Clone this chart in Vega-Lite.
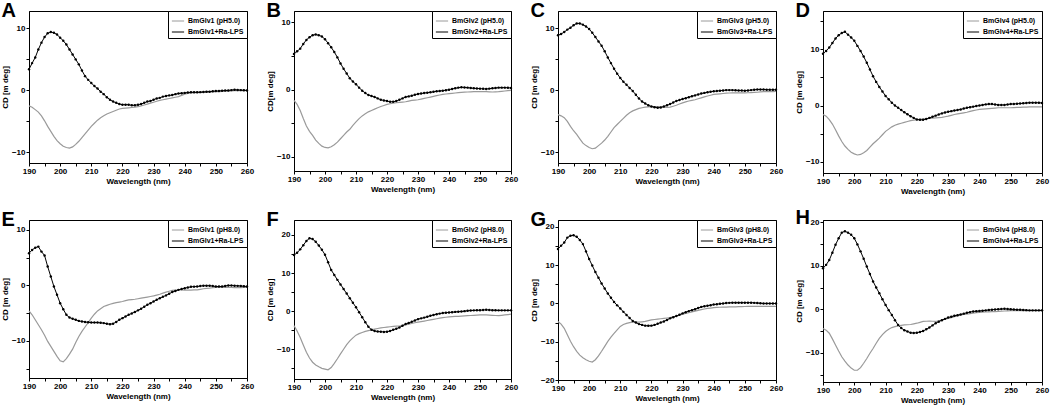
{
"$schema":"https://vega.github.io/schema/vega-lite/v6.json",
"padding":{"left":0,"top":0,"right":2,"bottom":0},
"background":"white",
"columns":4,
"spacing":{"row":11,"column":10},
"resolve":{"scale":{"color":"independent","y":"independent","x":"independent"},"legend":{"color":"independent"},"axis":{"x":"independent","y":"independent"}},
"datasets":{
"A":[{"w":190,"a":-2.5,"b":3.4},{"w":191,"a":-2.7,"b":4.4},{"w":192,"a":-3.1,"b":5.3},{"w":193,"a":-3.5,"b":6.6},{"w":194,"a":-4.1,"b":7.7},{"w":195,"a":-4.9,"b":8.6},{"w":196,"a":-5.8,"b":9.2},{"w":197,"a":-6.6,"b":9.4},{"w":198,"a":-7.4,"b":9.3},{"w":199,"a":-8.1,"b":9.0},{"w":200,"a":-8.6,"b":8.5},{"w":201,"a":-9.0,"b":8.0},{"w":202,"a":-9.2,"b":7.4},{"w":203,"a":-9.3,"b":6.6},{"w":204,"a":-9.1,"b":5.8},{"w":205,"a":-8.7,"b":5.0},{"w":206,"a":-8.2,"b":4.2},{"w":207,"a":-7.6,"b":3.2},{"w":208,"a":-7.0,"b":2.3},{"w":209,"a":-6.4,"b":1.7},{"w":210,"a":-5.8,"b":1.2},{"w":211,"a":-5.3,"b":0.7},{"w":212,"a":-4.8,"b":0.3},{"w":213,"a":-4.4,"b":-0.2},{"w":214,"a":-4.1,"b":-0.6},{"w":215,"a":-3.8,"b":-1.1},{"w":216,"a":-3.6,"b":-1.5},{"w":217,"a":-3.4,"b":-1.8},{"w":218,"a":-3.2,"b":-2.0},{"w":219,"a":-3.0,"b":-2.2},{"w":220,"a":-2.9,"b":-2.3},{"w":221,"a":-2.85,"b":-2.3},{"w":222,"a":-2.8,"b":-2.3},{"w":223,"a":-2.75,"b":-2.4},{"w":224,"a":-2.7,"b":-2.4},{"w":225,"a":-2.6,"b":-2.3},{"w":226,"a":-2.5,"b":-2.2},{"w":227,"a":-2.35,"b":-2.0},{"w":228,"a":-2.2,"b":-1.8},{"w":229,"a":-2.05,"b":-1.7},{"w":230,"a":-1.9,"b":-1.5},{"w":231,"a":-1.75,"b":-1.3},{"w":232,"a":-1.6,"b":-1.2},{"w":233,"a":-1.5,"b":-1.0},{"w":234,"a":-1.4,"b":-0.9},{"w":235,"a":-1.3,"b":-0.8},{"w":236,"a":-1.2,"b":-0.75},{"w":237,"a":-1.1,"b":-0.6},{"w":238,"a":-1.0,"b":-0.5},{"w":239,"a":-0.8,"b":-0.45},{"w":240,"a":-0.6,"b":-0.4},{"w":241,"a":-0.5,"b":-0.35},{"w":242,"a":-0.4,"b":-0.3},{"w":243,"a":-0.38,"b":-0.3},{"w":244,"a":-0.35,"b":-0.3},{"w":245,"a":-0.32,"b":-0.28},{"w":246,"a":-0.3,"b":-0.25},{"w":247,"a":-0.28,"b":-0.22},{"w":248,"a":-0.25,"b":-0.2},{"w":249,"a":-0.22,"b":-0.15},{"w":250,"a":-0.2,"b":-0.1},{"w":251,"a":-0.18,"b":-0.08},{"w":252,"a":-0.15,"b":-0.05},{"w":253,"a":-0.12,"b":-0.02},{"w":254,"a":-0.1,"b":0.0},{"w":255,"a":-0.08,"b":0.05},{"w":256,"a":-0.05,"b":0.1},{"w":257,"a":-0.05,"b":0.08},{"w":258,"a":-0.03,"b":0.05},{"w":259,"a":-0.02,"b":0.02},{"w":260,"a":0.0,"b":0.0}],
"B":[{"w":190,"a":-1.6,"b":5.3},{"w":191,"a":-2.2,"b":5.7},{"w":192,"a":-3.1,"b":6.1},{"w":193,"a":-4.3,"b":6.8},{"w":194,"a":-5.4,"b":7.4},{"w":195,"a":-6.2,"b":7.8},{"w":196,"a":-6.8,"b":8.1},{"w":197,"a":-7.5,"b":8.2},{"w":198,"a":-8.0,"b":8.1},{"w":199,"a":-8.4,"b":7.9},{"w":200,"a":-8.6,"b":7.5},{"w":201,"a":-8.65,"b":6.9},{"w":202,"a":-8.5,"b":6.3},{"w":203,"a":-8.2,"b":5.6},{"w":204,"a":-7.8,"b":4.8},{"w":205,"a":-7.3,"b":3.9},{"w":206,"a":-6.8,"b":3.1},{"w":207,"a":-6.3,"b":2.4},{"w":208,"a":-5.9,"b":1.7},{"w":209,"a":-5.3,"b":1.2},{"w":210,"a":-4.8,"b":0.8},{"w":211,"a":-4.3,"b":0.3},{"w":212,"a":-3.9,"b":-0.15},{"w":213,"a":-3.6,"b":-0.5},{"w":214,"a":-3.3,"b":-0.8},{"w":215,"a":-3.1,"b":-0.95},{"w":216,"a":-2.9,"b":-1.1},{"w":217,"a":-2.7,"b":-1.3},{"w":218,"a":-2.5,"b":-1.5},{"w":219,"a":-2.35,"b":-1.6},{"w":220,"a":-2.2,"b":-1.7},{"w":221,"a":-2.1,"b":-1.8},{"w":222,"a":-2.0,"b":-1.8},{"w":223,"a":-1.95,"b":-1.7},{"w":224,"a":-1.9,"b":-1.5},{"w":225,"a":-1.85,"b":-1.3},{"w":226,"a":-1.8,"b":-1.1},{"w":227,"a":-1.7,"b":-1.0},{"w":228,"a":-1.6,"b":-0.9},{"w":229,"a":-1.55,"b":-0.75},{"w":230,"a":-1.5,"b":-0.65},{"w":231,"a":-1.4,"b":-0.58},{"w":232,"a":-1.3,"b":-0.5},{"w":233,"a":-1.2,"b":-0.45},{"w":234,"a":-1.1,"b":-0.4},{"w":235,"a":-1.0,"b":-0.32},{"w":236,"a":-0.9,"b":-0.25},{"w":237,"a":-0.8,"b":-0.2},{"w":238,"a":-0.7,"b":-0.15},{"w":239,"a":-0.65,"b":-0.08},{"w":240,"a":-0.6,"b":0.0},{"w":241,"a":-0.55,"b":0.1},{"w":242,"a":-0.5,"b":0.2},{"w":243,"a":-0.45,"b":0.3},{"w":244,"a":-0.4,"b":0.35},{"w":245,"a":-0.38,"b":0.33},{"w":246,"a":-0.35,"b":0.3},{"w":247,"a":-0.32,"b":0.25},{"w":248,"a":-0.3,"b":0.2},{"w":249,"a":-0.3,"b":0.18},{"w":250,"a":-0.3,"b":0.15},{"w":251,"a":-0.3,"b":0.12},{"w":252,"a":-0.3,"b":0.1},{"w":253,"a":-0.32,"b":0.15},{"w":254,"a":-0.35,"b":0.2},{"w":255,"a":-0.32,"b":0.25},{"w":256,"a":-0.3,"b":0.3},{"w":257,"a":-0.25,"b":0.3},{"w":258,"a":-0.2,"b":0.3},{"w":259,"a":-0.15,"b":0.28},{"w":260,"a":-0.1,"b":0.25}],
"C":[{"w":190,"a":-3.9,"b":8.9},{"w":191,"a":-4.1,"b":9.1},{"w":192,"a":-4.4,"b":9.4},{"w":193,"a":-5.0,"b":9.8},{"w":194,"a":-5.8,"b":10.1},{"w":195,"a":-6.5,"b":10.5},{"w":196,"a":-7.1,"b":10.8},{"w":197,"a":-7.8,"b":10.8},{"w":198,"a":-8.5,"b":10.6},{"w":199,"a":-8.9,"b":10.3},{"w":200,"a":-9.2,"b":9.9},{"w":201,"a":-9.4,"b":9.3},{"w":202,"a":-9.3,"b":8.6},{"w":203,"a":-8.9,"b":7.9},{"w":204,"a":-8.5,"b":7.2},{"w":205,"a":-8.0,"b":6.3},{"w":206,"a":-7.4,"b":5.3},{"w":207,"a":-6.7,"b":4.4},{"w":208,"a":-6.0,"b":3.5},{"w":209,"a":-5.5,"b":2.7},{"w":210,"a":-5.0,"b":2.0},{"w":211,"a":-4.5,"b":1.4},{"w":212,"a":-4.0,"b":0.9},{"w":213,"a":-3.6,"b":0.4},{"w":214,"a":-3.3,"b":-0.1},{"w":215,"a":-3.1,"b":-0.7},{"w":216,"a":-2.9,"b":-1.3},{"w":217,"a":-2.8,"b":-1.8},{"w":218,"a":-2.7,"b":-2.1},{"w":219,"a":-2.65,"b":-2.4},{"w":220,"a":-2.6,"b":-2.6},{"w":221,"a":-2.6,"b":-2.7},{"w":222,"a":-2.6,"b":-2.8},{"w":223,"a":-2.65,"b":-2.75},{"w":224,"a":-2.7,"b":-2.6},{"w":225,"a":-2.72,"b":-2.4},{"w":226,"a":-2.7,"b":-2.2},{"w":227,"a":-2.55,"b":-1.95},{"w":228,"a":-2.4,"b":-1.7},{"w":229,"a":-2.2,"b":-1.55},{"w":230,"a":-2.0,"b":-1.4},{"w":231,"a":-1.85,"b":-1.25},{"w":232,"a":-1.7,"b":-1.1},{"w":233,"a":-1.6,"b":-0.95},{"w":234,"a":-1.5,"b":-0.8},{"w":235,"a":-1.35,"b":-0.65},{"w":236,"a":-1.2,"b":-0.5},{"w":237,"a":-1.05,"b":-0.4},{"w":238,"a":-0.9,"b":-0.3},{"w":239,"a":-0.78,"b":-0.22},{"w":240,"a":-0.65,"b":-0.15},{"w":241,"a":-0.6,"b":-0.1},{"w":242,"a":-0.55,"b":-0.05},{"w":243,"a":-0.5,"b":0.0},{"w":244,"a":-0.45,"b":0.05},{"w":245,"a":-0.42,"b":0.05},{"w":246,"a":-0.4,"b":0.05},{"w":247,"a":-0.4,"b":0.02},{"w":248,"a":-0.4,"b":0.0},{"w":249,"a":-0.4,"b":-0.03},{"w":250,"a":-0.4,"b":-0.05},{"w":251,"a":-0.38,"b":0.0},{"w":252,"a":-0.35,"b":0.05},{"w":253,"a":-0.32,"b":0.1},{"w":254,"a":-0.3,"b":0.15},{"w":255,"a":-0.25,"b":0.15},{"w":256,"a":-0.2,"b":0.15},{"w":257,"a":-0.2,"b":0.12},{"w":258,"a":-0.2,"b":0.1},{"w":259,"a":-0.18,"b":0.1},{"w":260,"a":-0.15,"b":0.1}],
"D":[{"w":190,"a":-1.6,"b":9.2},{"w":191,"a":-1.9,"b":9.7},{"w":192,"a":-2.5,"b":10.3},{"w":193,"a":-3.3,"b":11.1},{"w":194,"a":-4.3,"b":11.9},{"w":195,"a":-5.4,"b":12.5},{"w":196,"a":-6.4,"b":12.9},{"w":197,"a":-7.2,"b":13.1},{"w":198,"a":-7.8,"b":12.6},{"w":199,"a":-8.3,"b":12.1},{"w":200,"a":-8.6,"b":11.5},{"w":201,"a":-8.8,"b":10.6},{"w":202,"a":-8.7,"b":9.7},{"w":203,"a":-8.4,"b":8.7},{"w":204,"a":-8.0,"b":7.6},{"w":205,"a":-7.4,"b":6.4},{"w":206,"a":-6.8,"b":5.2},{"w":207,"a":-6.3,"b":4.2},{"w":208,"a":-5.8,"b":3.3},{"w":209,"a":-5.2,"b":2.5},{"w":210,"a":-4.6,"b":1.7},{"w":211,"a":-4.2,"b":1.1},{"w":212,"a":-3.8,"b":0.5},{"w":213,"a":-3.5,"b":0.0},{"w":214,"a":-3.3,"b":-0.4},{"w":215,"a":-3.15,"b":-0.8},{"w":216,"a":-3.0,"b":-1.2},{"w":217,"a":-2.85,"b":-1.55},{"w":218,"a":-2.7,"b":-1.9},{"w":219,"a":-2.6,"b":-2.2},{"w":220,"a":-2.5,"b":-2.5},{"w":221,"a":-2.45,"b":-2.55},{"w":222,"a":-2.4,"b":-2.55},{"w":223,"a":-2.35,"b":-2.4},{"w":224,"a":-2.3,"b":-2.2},{"w":225,"a":-2.25,"b":-2.0},{"w":226,"a":-2.2,"b":-1.8},{"w":227,"a":-2.15,"b":-1.6},{"w":228,"a":-2.1,"b":-1.4},{"w":229,"a":-2.0,"b":-1.25},{"w":230,"a":-1.9,"b":-1.1},{"w":231,"a":-1.75,"b":-1.0},{"w":232,"a":-1.6,"b":-0.9},{"w":233,"a":-1.5,"b":-0.8},{"w":234,"a":-1.4,"b":-0.7},{"w":235,"a":-1.3,"b":-0.55},{"w":236,"a":-1.2,"b":-0.4},{"w":237,"a":-1.05,"b":-0.3},{"w":238,"a":-0.9,"b":-0.2},{"w":239,"a":-0.8,"b":-0.1},{"w":240,"a":-0.7,"b":0.0},{"w":241,"a":-0.65,"b":0.1},{"w":242,"a":-0.6,"b":0.2},{"w":243,"a":-0.55,"b":0.25},{"w":244,"a":-0.5,"b":0.25},{"w":245,"a":-0.45,"b":0.18},{"w":246,"a":-0.4,"b":0.1},{"w":247,"a":-0.4,"b":0.1},{"w":248,"a":-0.4,"b":0.1},{"w":249,"a":-0.4,"b":0.18},{"w":250,"a":-0.4,"b":0.25},{"w":251,"a":-0.38,"b":0.28},{"w":252,"a":-0.35,"b":0.3},{"w":253,"a":-0.32,"b":0.35},{"w":254,"a":-0.3,"b":0.4},{"w":255,"a":-0.28,"b":0.45},{"w":256,"a":-0.25,"b":0.5},{"w":257,"a":-0.25,"b":0.5},{"w":258,"a":-0.25,"b":0.5},{"w":259,"a":-0.25,"b":0.48},{"w":260,"a":-0.25,"b":0.45}],
"E":[{"w":190,"a":-4.6,"b":5.8},{"w":191,"a":-5.3,"b":6.4},{"w":192,"a":-6.2,"b":6.8},{"w":193,"a":-7.1,"b":7.0},{"w":194,"a":-8.0,"b":6.1},{"w":195,"a":-9.0,"b":5.4},{"w":196,"a":-10.1,"b":3.4},{"w":197,"a":-11.0,"b":1.6},{"w":198,"a":-11.9,"b":-0.2},{"w":199,"a":-12.8,"b":-1.7},{"w":200,"a":-13.6,"b":-3.2},{"w":201,"a":-13.8,"b":-4.3},{"w":202,"a":-13.2,"b":-5.3},{"w":203,"a":-12.4,"b":-5.8},{"w":204,"a":-11.5,"b":-6.0},{"w":205,"a":-10.3,"b":-6.2},{"w":206,"a":-9.2,"b":-6.4},{"w":207,"a":-8.3,"b":-6.5},{"w":208,"a":-7.5,"b":-6.6},{"w":209,"a":-6.7,"b":-6.65},{"w":210,"a":-5.9,"b":-6.7},{"w":211,"a":-5.2,"b":-6.7},{"w":212,"a":-4.6,"b":-6.7},{"w":213,"a":-4.2,"b":-6.75},{"w":214,"a":-3.8,"b":-6.8},{"w":215,"a":-3.6,"b":-6.9},{"w":216,"a":-3.4,"b":-7.0},{"w":217,"a":-3.25,"b":-6.9},{"w":218,"a":-3.1,"b":-6.6},{"w":219,"a":-3.0,"b":-6.2},{"w":220,"a":-2.9,"b":-5.9},{"w":221,"a":-2.75,"b":-5.6},{"w":222,"a":-2.6,"b":-5.3},{"w":223,"a":-2.55,"b":-5.05},{"w":224,"a":-2.5,"b":-4.8},{"w":225,"a":-2.4,"b":-4.5},{"w":226,"a":-2.3,"b":-4.2},{"w":227,"a":-2.2,"b":-3.85},{"w":228,"a":-2.1,"b":-3.5},{"w":229,"a":-2.0,"b":-3.2},{"w":230,"a":-1.9,"b":-2.9},{"w":231,"a":-1.75,"b":-2.6},{"w":232,"a":-1.6,"b":-2.3},{"w":233,"a":-1.4,"b":-2.05},{"w":234,"a":-1.2,"b":-1.8},{"w":235,"a":-1.05,"b":-1.5},{"w":236,"a":-0.9,"b":-1.2},{"w":237,"a":-0.85,"b":-1.0},{"w":238,"a":-0.8,"b":-0.8},{"w":239,"a":-0.82,"b":-0.65},{"w":240,"a":-0.85,"b":-0.5},{"w":241,"a":-0.85,"b":-0.38},{"w":242,"a":-0.85,"b":-0.25},{"w":243,"a":-0.82,"b":-0.22},{"w":244,"a":-0.8,"b":-0.2},{"w":245,"a":-0.7,"b":-0.12},{"w":246,"a":-0.6,"b":-0.05},{"w":247,"a":-0.55,"b":-0.05},{"w":248,"a":-0.5,"b":-0.05},{"w":249,"a":-0.42,"b":-0.12},{"w":250,"a":-0.35,"b":-0.2},{"w":251,"a":-0.35,"b":-0.2},{"w":252,"a":-0.35,"b":-0.2},{"w":253,"a":-0.35,"b":-0.1},{"w":254,"a":-0.35,"b":0.0},{"w":255,"a":-0.38,"b":-0.02},{"w":256,"a":-0.4,"b":-0.05},{"w":257,"a":-0.4,"b":-0.08},{"w":258,"a":-0.4,"b":-0.1},{"w":259,"a":-0.38,"b":-0.15},{"w":260,"a":-0.35,"b":-0.2}],
"F":[{"w":190,"a":-3.8,"b":14.7},{"w":191,"a":-5.2,"b":15.3},{"w":192,"a":-6.9,"b":16.2},{"w":193,"a":-8.9,"b":17.3},{"w":194,"a":-10.8,"b":18.4},{"w":195,"a":-12.3,"b":19.1},{"w":196,"a":-13.4,"b":18.9},{"w":197,"a":-14.1,"b":18.2},{"w":198,"a":-14.6,"b":17.2},{"w":199,"a":-15.0,"b":16.1},{"w":200,"a":-15.2,"b":14.8},{"w":201,"a":-15.4,"b":12.8},{"w":202,"a":-14.8,"b":10.8},{"w":203,"a":-13.7,"b":9.5},{"w":204,"a":-12.5,"b":8.2},{"w":205,"a":-11.2,"b":7.0},{"w":206,"a":-10.0,"b":5.8},{"w":207,"a":-8.8,"b":4.6},{"w":208,"a":-7.8,"b":3.4},{"w":209,"a":-7.0,"b":2.2},{"w":210,"a":-6.3,"b":1.0},{"w":211,"a":-5.9,"b":-0.3},{"w":212,"a":-5.6,"b":-1.6},{"w":213,"a":-5.3,"b":-2.9},{"w":214,"a":-5.1,"b":-4.1},{"w":215,"a":-4.9,"b":-4.9},{"w":216,"a":-4.7,"b":-5.2},{"w":217,"a":-4.55,"b":-5.35},{"w":218,"a":-4.4,"b":-5.4},{"w":219,"a":-4.3,"b":-5.45},{"w":220,"a":-4.2,"b":-5.4},{"w":221,"a":-4.1,"b":-5.2},{"w":222,"a":-4.0,"b":-4.9},{"w":223,"a":-3.95,"b":-4.6},{"w":224,"a":-3.9,"b":-4.3},{"w":225,"a":-3.75,"b":-3.85},{"w":226,"a":-3.6,"b":-3.4},{"w":227,"a":-3.4,"b":-3.1},{"w":228,"a":-3.2,"b":-2.8},{"w":229,"a":-3.05,"b":-2.45},{"w":230,"a":-2.9,"b":-2.1},{"w":231,"a":-2.75,"b":-1.9},{"w":232,"a":-2.6,"b":-1.7},{"w":233,"a":-2.45,"b":-1.45},{"w":234,"a":-2.3,"b":-1.2},{"w":235,"a":-2.15,"b":-1.0},{"w":236,"a":-2.0,"b":-0.8},{"w":237,"a":-1.85,"b":-0.65},{"w":238,"a":-1.7,"b":-0.5},{"w":239,"a":-1.6,"b":-0.42},{"w":240,"a":-1.5,"b":-0.35},{"w":241,"a":-1.45,"b":-0.28},{"w":242,"a":-1.4,"b":-0.2},{"w":243,"a":-1.35,"b":-0.15},{"w":244,"a":-1.3,"b":-0.1},{"w":245,"a":-1.25,"b":0.0},{"w":246,"a":-1.2,"b":0.1},{"w":247,"a":-1.15,"b":0.15},{"w":248,"a":-1.1,"b":0.2},{"w":249,"a":-1.05,"b":0.22},{"w":250,"a":-1.0,"b":0.25},{"w":251,"a":-1.0,"b":0.3},{"w":252,"a":-1.0,"b":0.35},{"w":253,"a":-1.05,"b":0.3},{"w":254,"a":-1.1,"b":0.25},{"w":255,"a":-1.15,"b":0.22},{"w":256,"a":-1.2,"b":0.2},{"w":257,"a":-1.1,"b":0.2},{"w":258,"a":-1.0,"b":0.2},{"w":259,"a":-0.9,"b":0.2},{"w":260,"a":-0.8,"b":0.2}],
"G":[{"w":190,"a":-4.7,"b":14.2},{"w":191,"a":-5.4,"b":15.1},{"w":192,"a":-6.5,"b":15.9},{"w":193,"a":-8.2,"b":17.2},{"w":194,"a":-9.9,"b":17.7},{"w":195,"a":-11.3,"b":17.8},{"w":196,"a":-12.5,"b":17.4},{"w":197,"a":-13.5,"b":16.6},{"w":198,"a":-14.2,"b":15.5},{"w":199,"a":-14.7,"b":13.6},{"w":200,"a":-15.1,"b":11.6},{"w":201,"a":-15.3,"b":9.9},{"w":202,"a":-14.7,"b":8.2},{"w":203,"a":-13.7,"b":6.7},{"w":204,"a":-12.5,"b":5.2},{"w":205,"a":-11.2,"b":3.9},{"w":206,"a":-9.9,"b":2.6},{"w":207,"a":-8.8,"b":1.5},{"w":208,"a":-7.8,"b":0.4},{"w":209,"a":-6.9,"b":-0.5},{"w":210,"a":-6.0,"b":-1.3},{"w":211,"a":-5.5,"b":-2.2},{"w":212,"a":-5.2,"b":-3.0},{"w":213,"a":-5.0,"b":-3.8},{"w":214,"a":-4.9,"b":-4.6},{"w":215,"a":-4.9,"b":-5.0},{"w":216,"a":-4.9,"b":-5.4},{"w":217,"a":-4.8,"b":-5.6},{"w":218,"a":-4.7,"b":-5.8},{"w":219,"a":-4.5,"b":-5.85},{"w":220,"a":-4.3,"b":-5.8},{"w":221,"a":-4.2,"b":-5.6},{"w":222,"a":-4.1,"b":-5.3},{"w":223,"a":-4.0,"b":-5.0},{"w":224,"a":-3.9,"b":-4.7},{"w":225,"a":-3.8,"b":-4.3},{"w":226,"a":-3.7,"b":-3.9},{"w":227,"a":-3.5,"b":-3.6},{"w":228,"a":-3.3,"b":-3.3},{"w":229,"a":-3.05,"b":-2.95},{"w":230,"a":-2.8,"b":-2.6},{"w":231,"a":-2.6,"b":-2.3},{"w":232,"a":-2.4,"b":-2.0},{"w":233,"a":-2.2,"b":-1.75},{"w":234,"a":-2.0,"b":-1.5},{"w":235,"a":-1.8,"b":-1.2},{"w":236,"a":-1.6,"b":-0.9},{"w":237,"a":-1.45,"b":-0.75},{"w":238,"a":-1.3,"b":-0.6},{"w":239,"a":-1.2,"b":-0.45},{"w":240,"a":-1.1,"b":-0.3},{"w":241,"a":-1.05,"b":-0.2},{"w":242,"a":-1.0,"b":-0.1},{"w":243,"a":-0.98,"b":0.0},{"w":244,"a":-0.95,"b":0.1},{"w":245,"a":-0.92,"b":0.15},{"w":246,"a":-0.9,"b":0.2},{"w":247,"a":-0.88,"b":0.2},{"w":248,"a":-0.85,"b":0.2},{"w":249,"a":-0.82,"b":0.2},{"w":250,"a":-0.8,"b":0.2},{"w":251,"a":-0.78,"b":0.2},{"w":252,"a":-0.75,"b":0.2},{"w":253,"a":-0.75,"b":0.15},{"w":254,"a":-0.75,"b":0.1},{"w":255,"a":-0.75,"b":0.05},{"w":256,"a":-0.75,"b":0.0},{"w":257,"a":-0.75,"b":0.0},{"w":258,"a":-0.75,"b":0.0},{"w":259,"a":-0.75,"b":0.0},{"w":260,"a":-0.75,"b":0.0}],
"H":[{"w":190,"a":-4.4,"b":9.4},{"w":191,"a":-4.8,"b":10.2},{"w":192,"a":-5.5,"b":11.3},{"w":193,"a":-6.8,"b":13.0},{"w":194,"a":-8.2,"b":14.8},{"w":195,"a":-9.6,"b":16.3},{"w":196,"a":-10.9,"b":17.6},{"w":197,"a":-11.9,"b":17.9},{"w":198,"a":-12.8,"b":17.6},{"w":199,"a":-13.5,"b":17.1},{"w":200,"a":-14.0,"b":16.3},{"w":201,"a":-14.0,"b":14.9},{"w":202,"a":-13.4,"b":13.3},{"w":203,"a":-12.4,"b":11.6},{"w":204,"a":-11.3,"b":9.8},{"w":205,"a":-10.1,"b":8.1},{"w":206,"a":-9.0,"b":6.4},{"w":207,"a":-7.8,"b":5.0},{"w":208,"a":-6.7,"b":3.7},{"w":209,"a":-5.8,"b":2.3},{"w":210,"a":-5.1,"b":1.0},{"w":211,"a":-4.6,"b":-0.2},{"w":212,"a":-4.2,"b":-1.3},{"w":213,"a":-4.0,"b":-2.5},{"w":214,"a":-3.8,"b":-3.6},{"w":215,"a":-3.7,"b":-4.3},{"w":216,"a":-3.6,"b":-4.8},{"w":217,"a":-3.55,"b":-5.1},{"w":218,"a":-3.5,"b":-5.4},{"w":219,"a":-3.35,"b":-5.45},{"w":220,"a":-3.2,"b":-5.4},{"w":221,"a":-3.0,"b":-5.2},{"w":222,"a":-2.8,"b":-5.0},{"w":223,"a":-2.75,"b":-4.6},{"w":224,"a":-2.7,"b":-4.2},{"w":225,"a":-2.75,"b":-3.7},{"w":226,"a":-2.8,"b":-3.2},{"w":227,"a":-2.65,"b":-2.85},{"w":228,"a":-2.5,"b":-2.5},{"w":229,"a":-2.3,"b":-2.2},{"w":230,"a":-2.1,"b":-1.9},{"w":231,"a":-1.9,"b":-1.7},{"w":232,"a":-1.7,"b":-1.5},{"w":233,"a":-1.5,"b":-1.35},{"w":234,"a":-1.3,"b":-1.2},{"w":235,"a":-1.2,"b":-1.0},{"w":236,"a":-1.1,"b":-0.8},{"w":237,"a":-1.0,"b":-0.65},{"w":238,"a":-0.9,"b":-0.5},{"w":239,"a":-0.8,"b":-0.45},{"w":240,"a":-0.7,"b":-0.4},{"w":241,"a":-0.65,"b":-0.32},{"w":242,"a":-0.6,"b":-0.25},{"w":243,"a":-0.58,"b":-0.18},{"w":244,"a":-0.55,"b":-0.1},{"w":245,"a":-0.52,"b":-0.05},{"w":246,"a":-0.5,"b":0.0},{"w":247,"a":-0.45,"b":0.05},{"w":248,"a":-0.4,"b":0.1},{"w":249,"a":-0.35,"b":0.05},{"w":250,"a":-0.3,"b":0.0},{"w":251,"a":-0.3,"b":-0.05},{"w":252,"a":-0.3,"b":-0.1},{"w":253,"a":-0.3,"b":-0.12},{"w":254,"a":-0.3,"b":-0.15},{"w":255,"a":-0.3,"b":-0.2},{"w":256,"a":-0.3,"b":-0.25},{"w":257,"a":-0.3,"b":-0.25},{"w":258,"a":-0.3,"b":-0.25},{"w":259,"a":-0.3,"b":-0.25},{"w":260,"a":-0.3,"b":-0.25}]
},
"concat":[
{"width":218,"height":152,"data":{"name":"A"},"title":{"text":"A"},
 "encoding":{"x":{"field":"w","type":"quantitative","scale":{"domain":[190,260],"nice":false,"zero":false},"axis":{"values":[190,195,200,205,210,215,220,225,230,235,240,245,250,255,260],"title":"Wavelength (nm)"}}},
 "layer":[
 {"mark":{"type":"line","strokeWidth":1.2},"encoding":{"y":{"field":"a","type":"quantitative","scale":{"domain":[-11.7,12.8],"nice":false,"zero":false},"axis":{"values":[-10,-5,0,5,10],"title":"CD [m deg]"}},"color":{"datum":"BmGlv1 (pH5.0)","scale":{"domain":["BmGlv1 (pH5.0)","BmGlv1+Ra-LPS"],"range":["#9a9a9a","#000000"]},"legend":{"title":null}}}},
 {"mark":{"type":"line","strokeWidth":1,"point":{"filled":true,"size":6}},"encoding":{"y":{"field":"b","type":"quantitative","axis":{"values":[-10,-5,0,5,10],"title":"CD [m deg]"}},"color":{"datum":"BmGlv1+Ra-LPS"}}}
 ]},
{"width":217,"height":160,"data":{"name":"B"},"title":{"text":"B"},
 "encoding":{"x":{"field":"w","type":"quantitative","scale":{"domain":[190,260],"nice":false,"zero":false},"axis":{"values":[190,195,200,205,210,215,220,225,230,235,240,245,250,255,260],"title":"Wavelength (nm)"}}},
 "layer":[
 {"mark":{"type":"line","strokeWidth":1.2},"encoding":{"y":{"field":"a","type":"quantitative","scale":{"domain":[-12.1,11.7],"nice":false,"zero":false},"axis":{"values":[-10,-5,0,5,10],"title":"CD[m deg]"}},"color":{"datum":"BmGlv2 (pH5.0)","scale":{"domain":["BmGlv2 (pH5.0)","BmGlv2+Ra-LPS"],"range":["#9a9a9a","#000000"]},"legend":{"title":null}}}},
 {"mark":{"type":"line","strokeWidth":1,"point":{"filled":true,"size":6}},"encoding":{"y":{"field":"b","type":"quantitative","axis":{"values":[-10,-5,0,5,10],"title":"CD[m deg]"}},"color":{"datum":"BmGlv2+Ra-LPS"}}}
 ]},
{"width":218,"height":152,"data":{"name":"C"},"title":{"text":"C"},
 "encoding":{"x":{"field":"w","type":"quantitative","scale":{"domain":[190,260],"nice":false,"zero":false},"axis":{"values":[190,195,200,205,210,215,220,225,230,235,240,245,250,255,260],"title":"Wavelength (nm)"}}},
 "layer":[
 {"mark":{"type":"line","strokeWidth":1.2},"encoding":{"y":{"field":"a","type":"quantitative","scale":{"domain":[-11.7,12.8],"nice":false,"zero":false},"axis":{"values":[-10,-5,0,5,10],"title":"CD [m deg]"}},"color":{"datum":"BmGlv3 (pH5.0)","scale":{"domain":["BmGlv3 (pH5.0)","BmGlv3+Ra-LPS"],"range":["#9a9a9a","#000000"]},"legend":{"title":null}}}},
 {"mark":{"type":"line","strokeWidth":1,"point":{"filled":true,"size":6}},"encoding":{"y":{"field":"b","type":"quantitative","axis":{"values":[-10,-5,0,5,10],"title":"CD [m deg]"}},"color":{"datum":"BmGlv3+Ra-LPS"}}}
 ]},
{"width":219,"height":162,"data":{"name":"D"},"title":{"text":"D"},
 "encoding":{"x":{"field":"w","type":"quantitative","scale":{"domain":[190,260],"nice":false,"zero":false},"axis":{"values":[190,195,200,205,210,215,220,225,230,235,240,245,250,255,260],"title":"Wavelength (nm)"}}},
 "layer":[
 {"mark":{"type":"line","strokeWidth":1.2},"encoding":{"y":{"field":"a","type":"quantitative","scale":{"domain":[-12.0,16.8],"nice":false,"zero":false},"axis":{"values":[-10,-5,0,5,10,15],"title":"CD [m deg]"}},"color":{"datum":"BmGlv4 (pH5.0)","scale":{"domain":["BmGlv4 (pH5.0)","BmGlv4+Ra-LPS"],"range":["#9a9a9a","#000000"]},"legend":{"title":null}}}},
 {"mark":{"type":"line","strokeWidth":1,"point":{"filled":true,"size":6}},"encoding":{"y":{"field":"b","type":"quantitative","axis":{"values":[-10,-5,0,5,10,15],"title":"CD [m deg]"}},"color":{"datum":"BmGlv4+Ra-LPS"}}}
 ]},
{"width":218,"height":158,"data":{"name":"E"},"title":{"text":"E"},
 "encoding":{"x":{"field":"w","type":"quantitative","scale":{"domain":[190,260],"nice":false,"zero":false},"axis":{"values":[190,195,200,205,210,215,220,225,230,235,240,245,250,255,260],"title":"Wavelength (nm)"}}},
 "layer":[
 {"mark":{"type":"line","strokeWidth":1.2},"encoding":{"y":{"field":"a","type":"quantitative","scale":{"domain":[-16.7,11.8],"nice":false,"zero":false},"axis":{"values":[-15,-10,-5,0,5,10],"title":"CD [m deg]"}},"color":{"datum":"BmGlv1 (pH8.0)","scale":{"domain":["BmGlv1 (pH8.0)","BmGlv1+Ra-LPS"],"range":["#9a9a9a","#000000"]},"legend":{"title":null}}}},
 {"mark":{"type":"line","strokeWidth":1,"point":{"filled":true,"size":6}},"encoding":{"y":{"field":"b","type":"quantitative","axis":{"values":[-15,-10,-5,0,5,10],"title":"CD [m deg]"}},"color":{"datum":"BmGlv1+Ra-LPS"}}}
 ]},
{"width":217,"height":159,"data":{"name":"F"},"title":{"text":"F"},
 "encoding":{"x":{"field":"w","type":"quantitative","scale":{"domain":[190,260],"nice":false,"zero":false},"axis":{"values":[190,195,200,205,210,215,220,225,230,235,240,245,250,255,260],"title":"Wavelength (nm)"}}},
 "layer":[
 {"mark":{"type":"line","strokeWidth":1.2},"encoding":{"y":{"field":"a","type":"quantitative","scale":{"domain":[-17.8,23.9],"nice":false,"zero":false},"axis":{"values":[-15,-10,-5,0,5,10,15,20],"title":"CD [m deg]"}},"color":{"datum":"BmGlv2 (pH8.0)","scale":{"domain":["BmGlv2 (pH8.0)","BmGlv2+Ra-LPS"],"range":["#9a9a9a","#000000"]},"legend":{"title":null}}}},
 {"mark":{"type":"line","strokeWidth":1,"point":{"filled":true,"size":6}},"encoding":{"y":{"field":"b","type":"quantitative","axis":{"values":[-15,-10,-5,0,5,10,15,20],"title":"CD [m deg]"}},"color":{"datum":"BmGlv2+Ra-LPS"}}}
 ]},
{"width":218,"height":160,"data":{"name":"G"},"title":{"text":"G"},
 "encoding":{"x":{"field":"w","type":"quantitative","scale":{"domain":[190,260],"nice":false,"zero":false},"axis":{"values":[190,195,200,205,210,215,220,225,230,235,240,245,250,255,260],"title":"Wavelength (nm)"}}},
 "layer":[
 {"mark":{"type":"line","strokeWidth":1.2},"encoding":{"y":{"field":"a","type":"quantitative","scale":{"domain":[-20,21.8],"nice":false,"zero":false},"axis":{"values":[-20,-15,-10,-5,0,5,10,15,20],"title":"CD [m deg]"}},"color":{"datum":"BmGlv3 (pH8.0)","scale":{"domain":["BmGlv3 (pH8.0)","BmGlv3+Ra-LPS"],"range":["#9a9a9a","#000000"]},"legend":{"title":null}}}},
 {"mark":{"type":"line","strokeWidth":1,"point":{"filled":true,"size":6}},"encoding":{"y":{"field":"b","type":"quantitative","axis":{"values":[-20,-15,-10,-5,0,5,10,15,20],"title":"CD [m deg]"}},"color":{"datum":"BmGlv3+Ra-LPS"}}}
 ]},
{"width":219,"height":162,"data":{"name":"H"},"title":{"text":"H"},
 "encoding":{"x":{"field":"w","type":"quantitative","scale":{"domain":[190,260],"nice":false,"zero":false},"axis":{"values":[190,195,200,205,210,215,220,225,230,235,240,245,250,255,260],"title":"Wavelength (nm)"}}},
 "layer":[
 {"mark":{"type":"line","strokeWidth":1.2},"encoding":{"y":{"field":"a","type":"quantitative","scale":{"domain":[-16.7,20.5],"nice":false,"zero":false},"axis":{"values":[-15,-10,-5,0,5,10,15,20],"title":"CD [m deg]"}},"color":{"datum":"BmGlv4 (pH8.0)","scale":{"domain":["BmGlv4 (pH8.0)","BmGlv4+Ra-LPS"],"range":["#9a9a9a","#000000"]},"legend":{"title":null}}}},
 {"mark":{"type":"line","strokeWidth":1,"point":{"filled":true,"size":6}},"encoding":{"y":{"field":"b","type":"quantitative","axis":{"values":[-15,-10,-5,0,5,10,15,20],"title":"CD [m deg]"}},"color":{"datum":"BmGlv4+Ra-LPS"}}}
 ]}
],
"config":{
 "font":"Liberation Sans",
 "view":{"stroke":"#000000","strokeWidth":1},
 "axis":{"grid":false,"domainColor":"#000000","tickColor":"#000000","tickSize":3,"labelFont":"Liberation Sans","labelFontWeight":"bold","labelFontSize":8,"labelColor":"#000000","labelPadding":1,"labelFlush":false,"labelExpr":"datum.value % 10 == 0 ? datum.label : ''","labelOverlap":false,"titleFont":"Liberation Sans","titleFontWeight":"bold","titleFontSize":8,"titleColor":"#000000","titlePadding":2},
 "legend":{"orient":"top-right","offset":0,"strokeColor":"#000000","fillColor":"#ffffff","padding":3,"labelFont":"Liberation Sans","labelFontSize":7,"labelFontWeight":"bold","labelColor":"#000000","symbolType":"stroke","symbolSize":150,"symbolStrokeWidth":1,"rowPadding":1,"labelOffset":3},
 "title":{"anchor":"start","frame":"bounds","font":"Liberation Sans","fontSize":20,"fontWeight":"bold","color":"#000000","offset":-10}
}
}
